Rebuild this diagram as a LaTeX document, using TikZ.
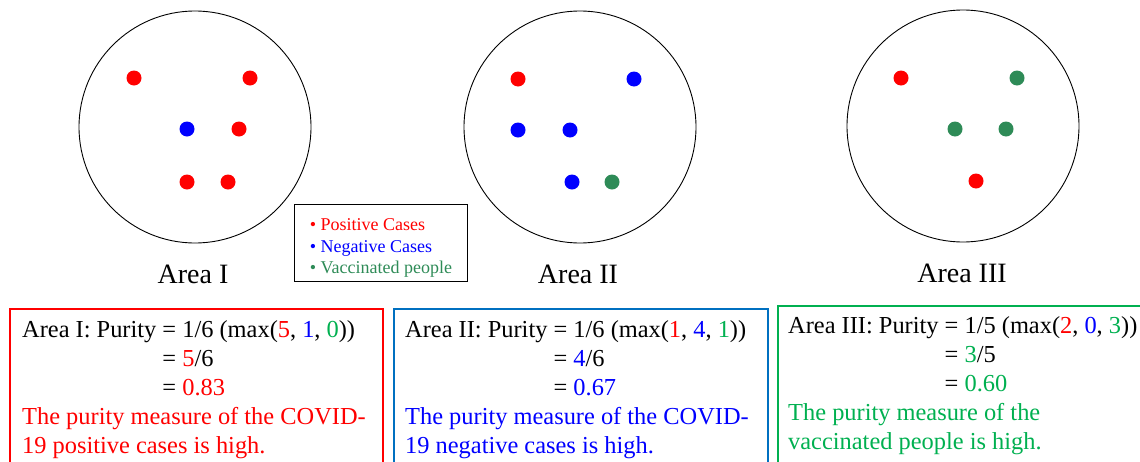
\documentclass[tikz,border=0pt]{standalone}
\usepackage{fontspec}
\setmainfont{Liberation Serif}
\usetikzlibrary{positioning}
\definecolor{posred}{RGB}{255,0,0}
\definecolor{negblue}{RGB}{0,0,255}
\definecolor{vacgreen}{RGB}{46,139,87}
\definecolor{txtgreen}{RGB}{0,176,80}
\definecolor{boxblue}{RGB}{0,112,192}

\begin{document}
\begin{tikzpicture}[
    x=1pt, y=-1pt,
    area/.style={
        draw=black,
        circle,
        minimum size=232pt,
        inner sep=0pt,
        line width=0.9pt
    },
    casedot/.style={
        circle,
        fill=#1,
        minimum size=15pt,
        inner sep=0pt
    },
    areaname/.style={
        font=\fontsize{28}{34}\selectfont,
        inner sep=0pt
    },
    legendbox/.style={
        draw=black,
        rectangle,
        anchor=north west,
        minimum width=173pt,
        minimum height=77pt,
        line width=1pt,
        align=left,
        font=\fontsize{18}{21.5}\selectfont
    },
    result/.style={
        rectangle,
        anchor=north west,
        minimum height=180pt,
        line width=2pt
    },
    resulttext/.style={
        anchor=base west,
        inner sep=0pt,
        font=\fontsize{24.4}{29}\selectfont
    }
]
\useasboundingbox (0,0) rectangle (1140,461);
\clip (0,0) rectangle (1140,461);

% areas
\node[area] (c1) at (195,127) {};
\node[area] (c2) at (580,127) {};
\node[area] (c3) at (963,126) {};

\node[casedot=posred] (a1) at (134,78) {};
\node[casedot=posred] (a2) at (250,78) {};
\node[casedot=negblue] (a3) at (187,129) {};
\node[casedot=posred] (a4) at (239,129) {};
\node[casedot=posred] (a5) at (187,182) {};
\node[casedot=posred] (a6) at (228,182) {};

\node[casedot=posred] (b1) at (518,79) {};
\node[casedot=negblue] (b2) at (634,79) {};
\node[casedot=negblue] (b3) at (518,130) {};
\node[casedot=negblue] (b4) at (570,130) {};
\node[casedot=negblue] (b5) at (572,182) {};
\node[casedot=vacgreen] (b6) at (612,182) {};

\node[casedot=posred] (d1) at (901,78) {};
\node[casedot=vacgreen] (d2) at (1017,78) {};
\node[casedot=vacgreen] (d3) at (955,129) {};
\node[casedot=vacgreen] (d4) at (1006,129) {};
\node[casedot=posred] (d5) at (976,181) {};

\node[areaname, below=21pt of c1, xshift=-2pt] (n1) {Area I};
\node[areaname, below=21pt of c2, xshift=-2pt] (n2) {Area II};
\node[areaname, below=21pt of c3, xshift=-1pt] (n3) {Area III};

\node[legendbox] (key) at (294,204) {
    \rule{0pt}{22pt}\textcolor{posred}{\textbullet\ Positive Cases}\\
    \textcolor{negblue}{\textbullet\ Negative Cases}\\
    \textcolor{vacgreen}{\textbullet\ Vaccinated people}
};

% purity boxes
\node[result, draw=posred, minimum width=373pt] (r1) at (9,308) {};
\node[result, draw=boxblue, minimum width=374pt] (r2) at (393,308) {};
\node[result, draw=txtgreen, minimum width=380pt] (r3) at (777,305) {};

\node[resulttext] (t1) at (22,337) {\begin{tabular}[t]{@{}l@{\ }l@{}}
    Area I: Purity & = 1/6 (max(\textcolor{posred}{5}, \textcolor{negblue}{1}, \textcolor{txtgreen}{0}))\\
    & = \textcolor{posred}{5}/6\\
    & = \textcolor{posred}{0.83}\\
    \multicolumn{2}{@{}l@{}}{\color{posred}The purity measure of the COVID-}\\
    \multicolumn{2}{@{}l@{}}{\color{posred}19 positive cases is high.}
\end{tabular}};

\node[resulttext] (t2) at (405,337) {\begin{tabular}[t]{@{}l@{\ }l@{}}
    Area II: Purity & = 1/6 (max(\textcolor{posred}{1}, \textcolor{negblue}{4}, \textcolor{txtgreen}{1}))\\
    & = \textcolor{negblue}{4}/6\\
    & = \textcolor{negblue}{0.67}\\
    \multicolumn{2}{@{}l@{}}{\color{negblue}The purity measure of the COVID-}\\
    \multicolumn{2}{@{}l@{}}{\color{negblue}19 negative cases is high.}
\end{tabular}};

\node[resulttext] (t3) at (788,333) {\begin{tabular}[t]{@{}l@{\ }l@{}}
    Area III: Purity & = 1/5 (max(\textcolor{posred}{2}, \textcolor{negblue}{0}, \textcolor{txtgreen}{3}))\\
    & = \textcolor{txtgreen}{3}/5\\
    & = \textcolor{txtgreen}{0.60}\\
    \multicolumn{2}{@{}l@{}}{\color{txtgreen}The purity measure of the}\\
    \multicolumn{2}{@{}l@{}}{\color{txtgreen}vaccinated people is high.}
\end{tabular}};

\end{tikzpicture}
\end{document}
